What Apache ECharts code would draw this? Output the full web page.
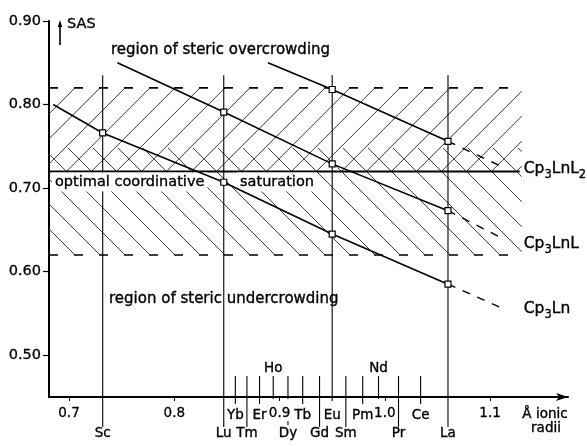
<!DOCTYPE html>
<html><head><meta charset="utf-8">
<script src="https://cdn.jsdelivr.net/npm/echarts@6/dist/echarts.min.js"></script>
<style>html,body{margin:0;padding:0;background:#fff}#c{width:587px;height:446px}</style>
</head><body><div id="c"></div>
<script>
// ---------- data ----------
const yTickValues = [0.5, 0.6, 0.7, 0.8, 0.9];
const xTickValues = [0.7, 0.8, 0.9, 1.0, 1.1];
const elementNames = ['Sc','Lu','Yb','Tm','Er','Ho','Dy','Tb','Gd','Eu','Sm','Pm','Nd','Pr','Ce','La'];
const elementRadii = [0.732,0.847,0.858,0.869,0.881,0.894,0.908,0.922,0.938,0.950,0.963,0.979,0.994,1.013,1.034,1.060];
const siteNames = ['Sc','Lu','Eu','La'];
const siteRadii = [0.732, 0.847, 0.950, 1.060];
const compounds = ['Cp3LnL2','Cp3LnL','Cp3Ln'];
const sasCp3LnL2 = [null, null, 0.818, 0.756];
const sasCp3LnL  = [null, 0.791, 0.729, 0.673];
const sasCp3Ln   = [0.766, 0.707, 0.645, 0.585];
const trendStart = [[0.889, 0.850], [0.746, 0.850], [0.685, 0.800]];
const trendEnd   = [[1.114, 0.724], [1.110, 0.641], [1.110, 0.557]];
const bandUpper = 0.82, bandOptimal = 0.72, bandLower = 0.62, crossTop = 0.748;
const bandRightX = 1.130;
const siteLineTop = 0.835;

// ---------- layout / style ----------
const FONT = 'DejaVu Sans';
const X_MIN = 0.681, X_MAX = 1.174, Y_MIN = 0.45, Y_MAX = 0.9;
const labelRow = {Sc:'low',Lu:'low',Yb:'mid',Tm:'low',Er:'mid',Ho:'top',Dy:'low',Tb:'mid',Gd:'low',Eu:'mid',Sm:'low',Pm:'mid',Nd:'top',Pr:'low',Ce:'mid',La:'low'};
const TXT = {fill:'#000', stroke:'#000', lineWidth:0.35};

const chart = echarts.init(document.getElementById('c'), null, {renderer:'canvas'});

const sasAll = [sasCp3LnL2, sasCp3LnL, sasCp3Ln];
const series = [];
compounds.forEach((name, ci) => {
  const pts = [];
  siteRadii.forEach((x, i) => { if (sasAll[ci][i] != null) pts.push([x, sasAll[ci][i]]); });
  series.push({
    name, type:'line', silent:true, z:5,
    data:[{value:trendStart[ci], symbol:'none'}].concat(pts.map(p => ({value:p}))),
    symbol:'rect', symbolSize:6, showAllSymbol:true,
    lineStyle:{color:'#000', width:1.6},
    itemStyle:{color:'#fff', borderColor:'#000', borderWidth:1.2}
  });
  series.push({
    name: name + '-ext', type:'line', silent:true, z:4,
    data:[pts[pts.length-1], trendEnd[ci]],
    symbol:'none',
    lineStyle:{color:'#000', width:1.4, type:[8,8]}
  });
});

chart.setOption({
  animation:false,
  backgroundColor:'#fff',
  grid:{left:49, right:19, top:21, bottom:49, containLabel:false, outerBoundsMode:'none'},
  xAxis:{
    type:'value', min:X_MIN, max:X_MAX,
    axisLine:{show:true, onZero:false, symbol:['none','arrow'], symbolSize:[6,12], lineStyle:{color:'#000', width:2}},
    axisTick:{show:true, customValues:xTickValues, length:4, lineStyle:{color:'#000', width:1}},
    axisLabel:{customValues:xTickValues, formatter:v => v.toFixed(1), color:'#000', fontFamily:FONT, fontSize:13.5, margin:9, textBorderColor:'#000', textBorderWidth:0.3},
    splitLine:{show:false}
  },
  yAxis:{
    type:'value', min:Y_MIN, max:Y_MAX,
    axisLine:{show:true, onZero:false, lineStyle:{color:'#000', width:2}},
    axisTick:{show:true, customValues:yTickValues, length:6, lineStyle:{color:'#000', width:1.2}},
    axisLabel:{customValues:yTickValues, formatter:v => v.toFixed(2), color:'#000', fontFamily:FONT, fontSize:14.5, margin:8, textBorderColor:'#000', textBorderWidth:0.3},
    splitLine:{show:false}
  },
  series
});

// ---------- decorations computed from the axes ----------
const P = (x, y) => chart.convertToPixel({gridIndex:0}, [x, y]);
const g = [];
const HATCH = '#3a3a3a';
const x0 = P(X_MIN, 0.8)[0];
const xR = P(bandRightX, 0.8)[0];
const yUp = P(0.8, bandUpper)[1], yOpt = P(0.8, bandOptimal)[1], yLow = P(0.8, bandLower)[1], yCross = P(0.8, crossTop)[1];
const axisY = P(0.8, Y_MIN)[1];
const step = 25, phase = 50;

// "/" hatch between upper dashed line and optimal line
{
  const h = yOpt - yUp;
  for (let a = phase - step * 4; a < xR + h + step; a += step) {
    const t1 = Math.max(0, a - xR), t2 = Math.min(h, a - x0);
    if (t2 > t1) g.push({type:'line', silent:true, z:1, shape:{x1:a - t1, y1:yUp + t1, x2:a - t2, y2:yUp + t2}, style:{stroke:HATCH, lineWidth:1}});
  }
}
// "\" hatch between lower dashed line and crossTop
{
  const h = yLow - yCross;
  for (let b = phase - step * 4; b < xR + h + step; b += step) {
    const t1 = Math.max(0, b - xR), t2 = Math.min(h, b - x0);
    if (t2 > t1) g.push({type:'line', silent:true, z:1, shape:{x1:b - t1, y1:yLow - t1, x2:b - t2, y2:yLow - t2}, style:{stroke:HATCH, lineWidth:1}});
  }
}
// band lines
g.push({type:'line', silent:true, z:2, shape:{x1:x0, y1:yUp, x2:xR, y2:yUp}, style:{stroke:'#000', lineWidth:1.6, lineDash:[9,16]}});
g.push({type:'line', silent:true, z:2, shape:{x1:x0, y1:yLow, x2:xR, y2:yLow}, style:{stroke:'#000', lineWidth:1.6, lineDash:[9,16]}});
g.push({type:'line', silent:true, z:2, shape:{x1:x0, y1:yOpt, x2:xR - 2, y2:yOpt}, style:{stroke:'#000', lineWidth:2}});

// element lines and labels
const labelY = {top: axisY - 29, mid: axisY + 18, low: axisY + 36};
const elFont = '13.5px ' + FONT;
elementNames.forEach((el, i) => {
  const px = P(elementRadii[i], 0.8)[0];
  const isSite = siteNames.includes(el);
  const row = labelRow[el];
  let yTop = isSite ? P(0.8, siteLineTop)[1] : axisY - 21;
  let yBot;
  if (el === 'Eu') yBot = axisY + 4;
  else if (el === 'Dy') yBot = axisY + 2;
  else if (row === 'low') yBot = axisY + 30;
  else if (row === 'mid') yBot = axisY + 7;
  else yBot = axisY + 2;
  g.push({type:'line', silent:true, z:2, shape:{x1:px, y1:yTop, x2:px, y2:yBot}, style:{stroke:'#000', lineWidth:1.1}});
  if (el === 'Dy') g.push({type:'line', silent:true, z:2, shape:{x1:px, y1:axisY + 24, x2:px, y2:axisY + 28}, style:{stroke:'#000', lineWidth:1}});
  g.push({type:'text', silent:true, z:3, x:px, y:labelY[row], style:Object.assign({text:el, font:elFont, align:'center', verticalAlign:'middle'}, TXT)});
});

// axis caption
g.push({type:'text', silent:true, z:3, x:545, y:axisY + 17, style:Object.assign({text:'Å ionic', font:'13.5px ' + FONT, align:'center', verticalAlign:'middle'}, TXT)});
g.push({type:'text', silent:true, z:3, x:546, y:axisY + 31, style:Object.assign({text:'radii', font:'13.5px ' + FONT, align:'center', verticalAlign:'middle'}, TXT)});

// SAS arrow + label
g.push({type:'line', silent:true, z:3, shape:{x1:60, y1:45, x2:60, y2:25}, style:{stroke:'#000', lineWidth:1.6}});
g.push({type:'polygon', silent:true, z:3, shape:{points:[[57.8,27],[62.2,27],[60,20]]}, style:{fill:'#000'}});
g.push({type:'text', silent:true, z:3, x:67, y:24, style:Object.assign({text:'SAS', font:'14.5px ' + FONT, align:'left', verticalAlign:'middle'}, TXT)});

// region annotations
const annFont = '15px ' + FONT;
g.push({type:'text', silent:true, z:3, x:111, y:50, style:Object.assign({text:'region of steric overcrowding', font:annFont, align:'left', verticalAlign:'middle'}, TXT)});
g.push({type:'text', silent:true, z:3, x:52, y:182, style:Object.assign({text:'optimal coordinative', font:'14.5px ' + FONT, align:'left', verticalAlign:'middle', backgroundColor:'#fff', padding:[2,3,2,3]}, TXT)});
g.push({type:'text', silent:true, z:3, x:237, y:182, style:Object.assign({text:'saturation', font:'14.5px ' + FONT, align:'left', verticalAlign:'middle', backgroundColor:'#fff', padding:[2,3,2,3]}, TXT)});
g.push({type:'text', silent:true, z:3, x:109, y:299, style:Object.assign({text:'region of steric undercrowding', font:annFont, align:'left', verticalAlign:'middle'}, TXT)});

// compound labels
const rich = {m:{fontSize:15.5, fontFamily:FONT, lineHeight:20, verticalAlign:'top', fill:'#000'}, s:{fontSize:11.5, fontFamily:FONT, lineHeight:11, verticalAlign:'bottom', fill:'#000'}};
const compLabelText = ['{m|Cp}{s|3}{m|LnL}{s|2}', '{m|Cp}{s|3}{m|LnL}', '{m|Cp}{s|3}{m|Ln}'];
const compLabelY = [0.720, 0.631, 0.553];
compLabelText.forEach((t, i) => {
  const p = P(1.132, compLabelY[i]);
  g.push({type:'text', silent:true, z:3, x:p[0], y:p[1], style:Object.assign({text:t, rich, align:'left', verticalAlign:'middle'}, TXT)});
});

chart.setOption({graphic:{elements:g}});
</script>
</body></html>
